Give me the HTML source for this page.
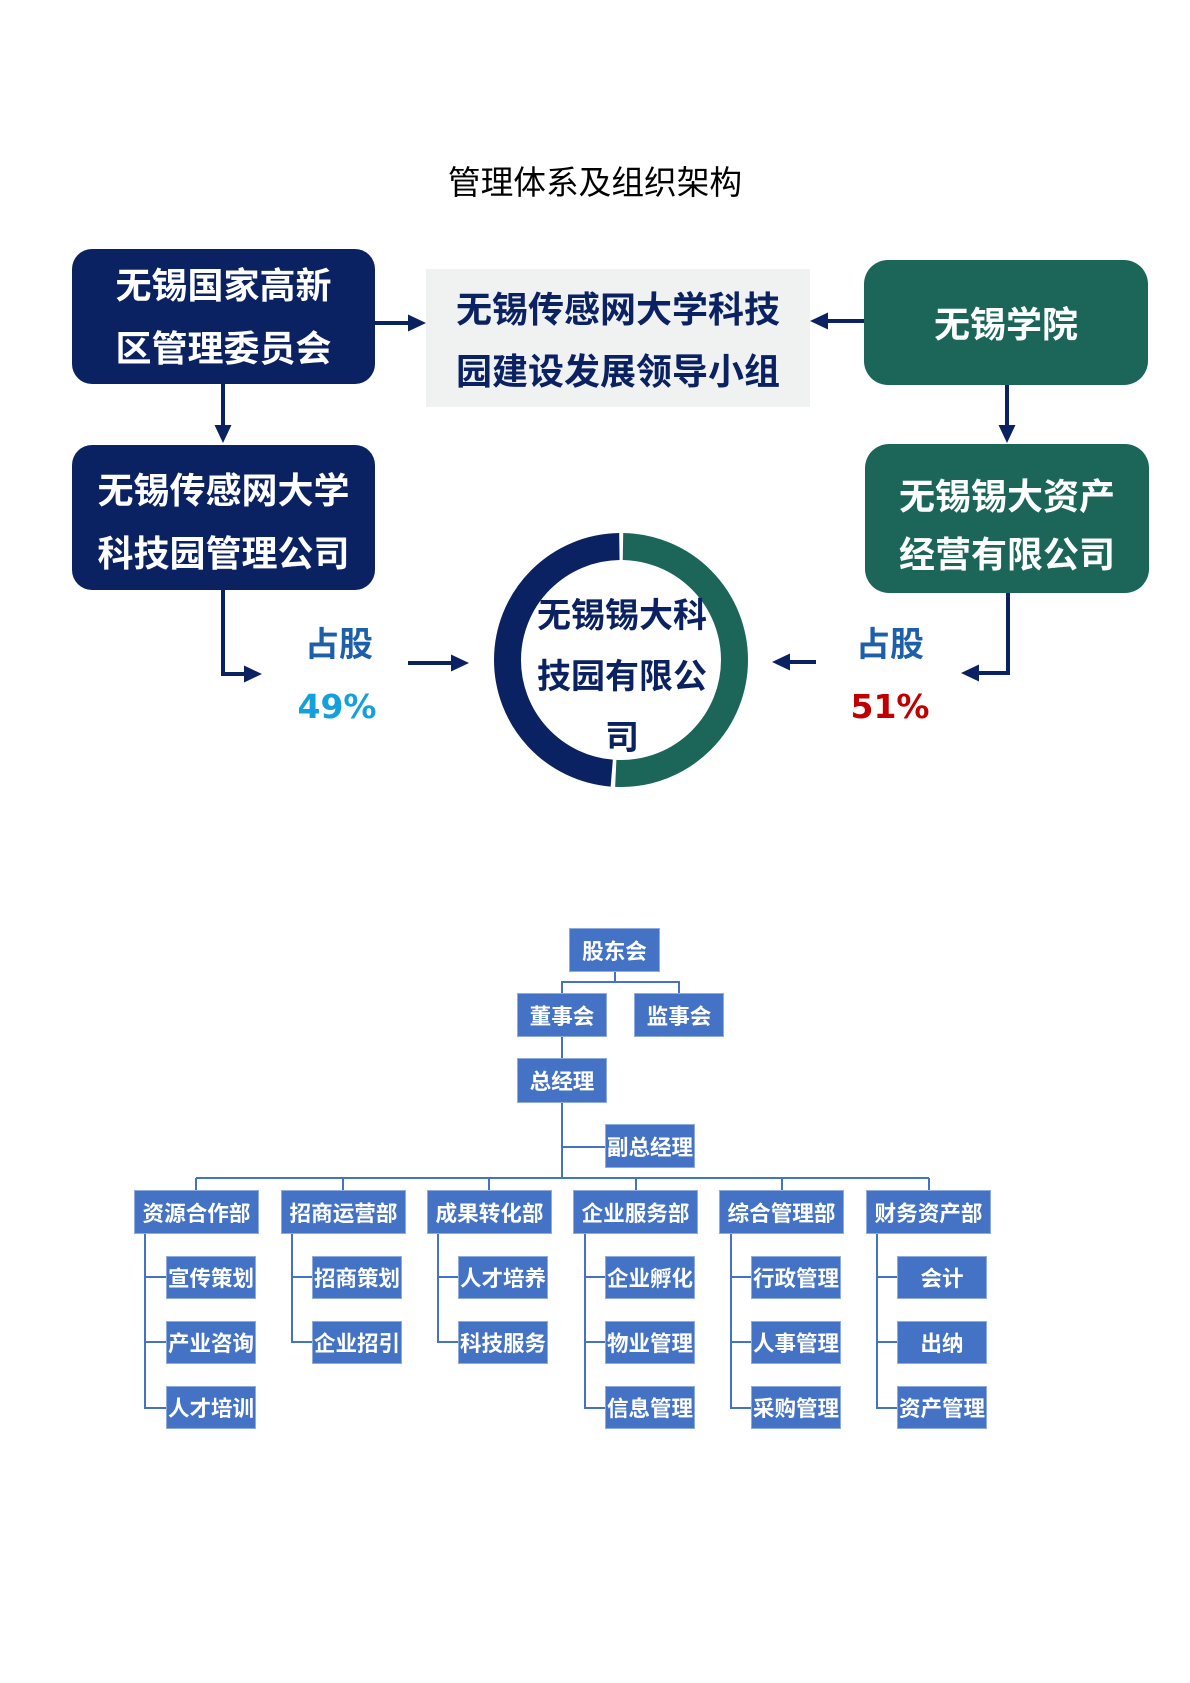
<!DOCTYPE html>
<html>
<head>
<meta charset="utf-8">
<style>
  html,body{margin:0;padding:0;background:#fff;}
  body{width:1190px;height:1683px;position:relative;overflow:hidden;
       font-family:"Liberation Sans","Noto Sans CJK SC",sans-serif;}
  .abs{position:absolute;box-sizing:border-box;}
  .cjk{font-family:"Liberation Sans","Noto Sans CJK SC",sans-serif;}
  .flex{display:flex;align-items:center;justify-content:center;text-align:center;}
  .navy{background:#0b2262;color:#fff;font-weight:700;font-size:36px;border-radius:20px;}
  .green{background:#1b6659;color:#fff;font-weight:700;font-size:36px;border-radius:24px;}
  .ob{background:#4472c4;border:1px solid #8faadc;color:#fff;font-weight:700;
      display:flex;align-items:center;justify-content:center;white-space:nowrap;}
  .dept{font-size:21.6px;width:125px;height:44px;top:1190px;}
  .sub{font-size:21.5px;width:90px;height:43px;}
  .top{font-size:21.6px;width:91px;height:44px;}
</style>
</head>
<body>

<svg class="abs" style="left:0;top:0" width="1190" height="1683" viewBox="0 0 1190 1683">
  <!-- top section arrows -->
  <g stroke="#0b2262" stroke-width="4" fill="none">
    <line x1="375" y1="323" x2="410" y2="323"/>
    <line x1="864" y1="321" x2="826" y2="321"/>
    <line x1="223" y1="384" x2="223" y2="427"/>
    <line x1="1007" y1="385" x2="1007" y2="427"/>
    <polyline points="223,590 223,674 246,674"/>
    <polyline points="1008,593 1008,673 977,673"/>
    <line x1="408" y1="663" x2="453" y2="663"/>
    <line x1="816" y1="662" x2="788" y2="662"/>
  </g>
  <g fill="#0b2262">
    <polygon points="426,323 408,314.5 408,331.5"/>
    <polygon points="810,321 828,312.5 828,329.5"/>
    <polygon points="223,443 214.5,425 231.5,425"/>
    <polygon points="1007,443 998.5,425 1015.5,425"/>
    <polygon points="262,674 244,665.5 244,682.5"/>
    <polygon points="961,673 979,664.5 979,681.5"/>
    <polygon points="469,663 451,654.5 451,671.5"/>
    <polygon points="772,662 790,653.5 790,670.5"/>
  </g>

  <!-- donut -->
  <g transform="rotate(-90 621 660)">
    <circle cx="621" cy="660" r="113.5" fill="none" stroke="#1b6659" stroke-width="27"
            stroke-dasharray="359.7 1000" stroke-dashoffset="-2"/>
    <circle cx="621" cy="660" r="113.5" fill="none" stroke="#0b2262" stroke-width="27"
            stroke-dasharray="345.5 1000" stroke-dashoffset="-365.7"/>
  </g>

  <!-- org chart lines -->
  <g stroke="#4472c4" stroke-width="2" fill="none">
    <line x1="615" y1="972" x2="615" y2="982"/>
    <polyline points="562,993 562,982 679,982 679,993"/>
    <line x1="562" y1="1037" x2="562" y2="1058"/>
    <line x1="562" y1="1103" x2="562" y2="1178"/>
    <line x1="562" y1="1147" x2="605" y2="1147"/>
    <line x1="196" y1="1178" x2="929" y2="1178"/>
    <line x1="196" y1="1178" x2="196" y2="1190"/>
    <line x1="343" y1="1178" x2="343" y2="1190"/>
    <line x1="489" y1="1178" x2="489" y2="1190"/>
    <line x1="636" y1="1178" x2="636" y2="1190"/>
    <line x1="782" y1="1178" x2="782" y2="1190"/>
    <line x1="929" y1="1178" x2="929" y2="1190"/>
    <!-- dept 1 -->
    <polyline points="145,1234 145,1408 166,1408"/>
    <line x1="145" y1="1277" x2="166" y2="1277"/>
    <line x1="145" y1="1342" x2="166" y2="1342"/>
    <!-- dept 2 -->
    <polyline points="292,1234 292,1342 313,1342"/>
    <line x1="292" y1="1277" x2="313" y2="1277"/>
    <!-- dept 3 -->
    <polyline points="438,1234 438,1342 459,1342"/>
    <line x1="438" y1="1277" x2="459" y2="1277"/>
    <!-- dept 4 -->
    <polyline points="585,1234 585,1408 605,1408"/>
    <line x1="585" y1="1277" x2="605" y2="1277"/>
    <line x1="585" y1="1342" x2="605" y2="1342"/>
    <!-- dept 5 -->
    <polyline points="731,1234 731,1408 751,1408"/>
    <line x1="731" y1="1277" x2="751" y2="1277"/>
    <line x1="731" y1="1342" x2="751" y2="1342"/>
    <!-- dept 6 -->
    <polyline points="877,1234 877,1408 898,1408"/>
    <line x1="877" y1="1277" x2="898" y2="1277"/>
    <line x1="877" y1="1342" x2="898" y2="1342"/>
  </g>
</svg>

<!-- title -->
<div class="abs cjk" style="left:0;top:158px;width:1190px;height:50px;line-height:50px;text-align:center;font-size:32.7px;font-weight:400;color:#000;">管理体系及组织架构</div>

<!-- top-left boxes -->
<div class="abs navy flex cjk" style="left:72px;top:249px;width:303px;height:135px;line-height:63px;">无锡国家高新<br>区管理委员会</div>
<div class="abs navy flex cjk" style="left:72px;top:445px;width:303px;height:145px;line-height:63px;padding-top:8px;">无锡传感网大学<br>科技园管理公司</div>

<!-- center gray box -->
<div class="abs flex cjk" style="left:426px;top:269px;width:384px;height:138px;background:#f0f1f1;color:#0b2262;font-weight:700;font-size:36px;line-height:62px;padding-top:6px;">无锡传感网大学科技<br>园建设发展领导小组</div>

<!-- right boxes -->
<div class="abs green flex cjk" style="left:864px;top:260px;width:284px;height:125px;line-height:50px;padding-top:5px;">无锡学院</div>
<div class="abs green flex cjk" style="left:865px;top:444px;width:284px;height:149px;line-height:58px;padding-top:15px;">无锡锡大资产<br>经营有限公司</div>

<!-- share labels -->
<div class="abs cjk" style="left:289px;top:620px;width:100px;height:50px;line-height:50px;text-align:center;font-size:34px;font-weight:700;color:#1d5fa8;">占股</div>
<div class="abs" style="left:287px;top:682px;width:100px;height:50px;line-height:50px;text-align:center;font-size:33px;font-weight:700;color:#16a0db;font-family:'DejaVu Sans',sans-serif;">49%</div>
<div class="abs cjk" style="left:840px;top:620px;width:100px;height:50px;line-height:50px;text-align:center;font-size:34px;font-weight:700;color:#1d5fa8;">占股</div>
<div class="abs" style="left:840px;top:682px;width:100px;height:50px;line-height:50px;text-align:center;font-size:33px;font-weight:700;color:#c00000;font-family:'DejaVu Sans',sans-serif;">51%</div>

<!-- donut text -->
<div class="abs cjk" style="left:532px;top:586px;width:180px;line-height:61px;text-align:center;font-size:34px;font-weight:700;color:#0b2262;">无锡锡大科<br>技园有限公<br>司</div>

<!-- org chart top -->
<div class="abs ob top cjk" style="left:569px;top:928px;">股东会</div>
<div class="abs ob top cjk" style="left:517px;top:993px;width:90px;">董事会</div>
<div class="abs ob top cjk" style="left:634px;top:993px;width:90px;">监事会</div>
<div class="abs ob top cjk" style="left:517px;top:1058px;width:90px;height:45px;">总经理</div>
<div class="abs ob sub cjk" style="left:605px;top:1124px;height:44px;">副总经理</div>

<!-- departments -->
<div class="abs ob dept cjk" style="left:134px;">资源合作部</div>
<div class="abs ob dept cjk" style="left:281px;">招商运营部</div>
<div class="abs ob dept cjk" style="left:427px;">成果转化部</div>
<div class="abs ob dept cjk" style="left:573px;">企业服务部</div>
<div class="abs ob dept cjk" style="left:719px;">综合管理部</div>
<div class="abs ob dept cjk" style="left:866px;">财务资产部</div>

<!-- sub units -->
<div class="abs ob sub cjk" style="left:166px;top:1256px;">宣传策划</div>
<div class="abs ob sub cjk" style="left:166px;top:1321px;">产业咨询</div>
<div class="abs ob sub cjk" style="left:166px;top:1386px;">人才培训</div>

<div class="abs ob sub cjk" style="left:312px;top:1256px;">招商策划</div>
<div class="abs ob sub cjk" style="left:312px;top:1321px;">企业招引</div>

<div class="abs ob sub cjk" style="left:458px;top:1256px;">人才培养</div>
<div class="abs ob sub cjk" style="left:458px;top:1321px;">科技服务</div>

<div class="abs ob sub cjk" style="left:605px;top:1256px;">企业孵化</div>
<div class="abs ob sub cjk" style="left:605px;top:1321px;">物业管理</div>
<div class="abs ob sub cjk" style="left:605px;top:1386px;">信息管理</div>

<div class="abs ob sub cjk" style="left:751px;top:1256px;">行政管理</div>
<div class="abs ob sub cjk" style="left:751px;top:1321px;">人事管理</div>
<div class="abs ob sub cjk" style="left:751px;top:1386px;">采购管理</div>

<div class="abs ob sub cjk" style="left:897px;top:1256px;">会计</div>
<div class="abs ob sub cjk" style="left:897px;top:1321px;">出纳</div>
<div class="abs ob sub cjk" style="left:897px;top:1386px;">资产管理</div>

</body>
</html>
